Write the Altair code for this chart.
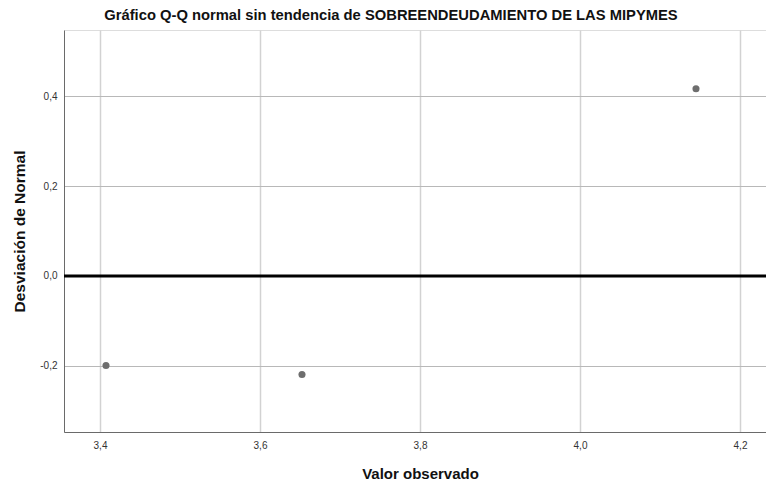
import altair as alt
import pandas as pd

# Detrended normal Q-Q values
observed = [3.4075, 3.6525, 4.145]
deviation = [-0.199, -0.219, 0.416]

x_ticks = [3.4, 3.6, 3.8, 4.0, 4.2]
y_ticks = [-0.2, 0.0, 0.2, 0.4]

points = pd.DataFrame({"observado": observed, "desviacion": deviation})
zero = pd.DataFrame({"y": [0.0]})

FONT = "Liberation Sans"
comma_label = "replace(replace(format(datum.value, '.1f'), '.', ','), '\u2212', '-')"

x_enc = alt.X(
    "observado:Q",
    scale=alt.Scale(domain=[3.355, 4.2325], nice=False, zero=False),
    axis=alt.Axis(
        title="Valor observado",
        values=x_ticks,
        labelExpr=comma_label,
        grid=True,
        gridColor="#d2d2d2",
        gridWidth=1.5,
        domainColor="#6a6a6a",
        domainWidth=1,
        ticks=False,
        labelPadding=8,
        labelFontSize=10,
        labelColor="#333333",
        labelFont=FONT,
        titleFont=FONT,
        titleFontSize=15,
        titleFontWeight="bold",
        titleColor="#111111",
        titlePadding=16,
        titleX=356,
    ),
)

y_enc = alt.Y(
    "desviacion:Q",
    scale=alt.Scale(domain=[-0.3467, 0.5467], nice=False, zero=False),
    axis=alt.Axis(
        title="Desviación de Normal",
        values=y_ticks,
        labelExpr=comma_label,
        grid=True,
        gridColor="#b8b8b8",
        gridWidth=1,
        domainColor="#6a6a6a",
        domainWidth=1,
        ticks=False,
        labelPadding=7,
        labelFontSize=10,
        labelColor="#333333",
        labelFont=FONT,
        titleFont=FONT,
        titleFontSize=15.5,
        titleFontWeight="bold",
        titleColor="#111111",
        titlePadding=12,
    ),
)

dots = alt.Chart(points).mark_circle(size=50, color="#6e6e6e", opacity=1).encode(
    x=x_enc, y=y_enc
)

zero_line = alt.Chart(zero).mark_rule(color="#000000", strokeWidth=3).encode(
    y=alt.Y("y:Q")
)

chart = (
    alt.layer(dots, zero_line)
    .properties(
        width=702,
        height=402,
        title=alt.TitleParams(
            "Gráfico Q-Q normal sin tendencia de SOBREENDEUDAMIENTO DE LAS MIPYMES",
            font=FONT,
            fontSize=14.75,
            fontWeight="bold",
            color="#111111",
            anchor="middle",
            dx=-24,
            offset=7,
        ),
        autosize=alt.AutoSizeParams(type="none"),
        padding={"left": 64, "top": 30, "right": 0, "bottom": 52},
    )
    .configure_view(stroke=None)
    .configure(background="#ffffff")
)

chart.save("out.html", embed_options={"renderer": "svg", "actions": False})
